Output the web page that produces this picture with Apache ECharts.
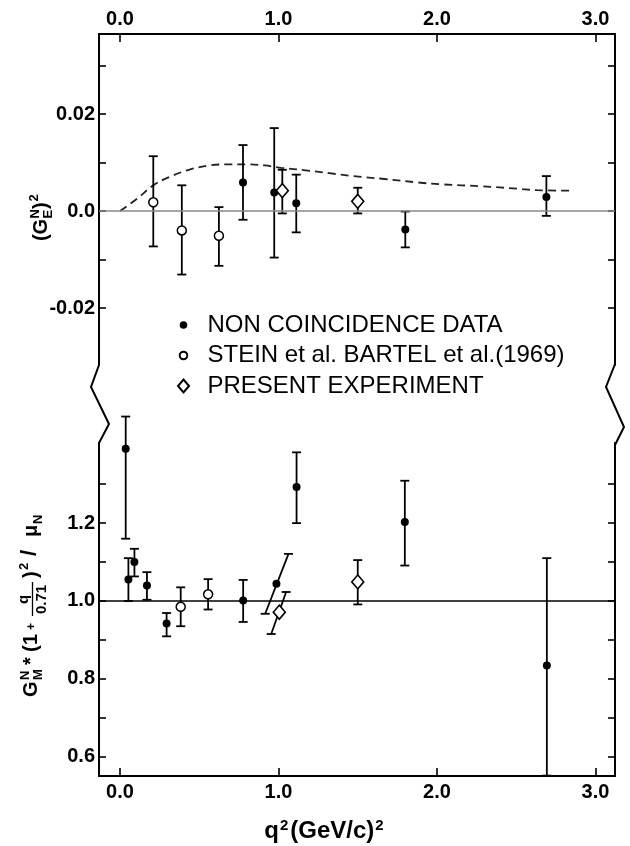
<!DOCTYPE html>
<html><head><meta charset="utf-8">
<script src="https://cdn.jsdelivr.net/npm/echarts@6/dist/echarts.min.js"></script>
<style>html,body{margin:0;padding:0;background:#fff}#c{width:630px;height:846px}</style>
</head><body><div id="c"></div>
<script>
// ---------- data ----------
const xTicks = [0, 1, 2, 3];
const topTicksY = [-0.02, -0.01, 0, 0.01, 0.02, 0.03];
const topLabelsY = [-0.02, 0, 0.02];
const botTicksY = [0.6, 0.7, 0.8, 0.9, 1.0, 1.1, 1.2, 1.3];
const botLabelsY = [0.6, 0.8, 1.0, 1.2];

const NAME_F = 'NON COINCIDENCE DATA';
const NAME_O = 'STEIN et al. BARTEL et al.(1969)';
const NAME_D = 'PRESENT EXPERIMENT';

// upper panel  |G_E^N|^2
const topFilledX  = [0.776, 0.973, 1.112, 1.800, 2.690];
const topFilledY  = [0.0059, 0.0038, 0.0016, -0.0038, 0.0029];
const topFilledLo = [-0.0018, -0.0096, -0.0044, -0.0075, -0.0010];
const topFilledHi = [0.0136, 0.0171, 0.0075, -0.0001, 0.0072];

const topOpenX  = [0.210, 0.390, 0.624];
const topOpenY  = [0.0018, -0.0040, -0.0051];
const topOpenLo = [-0.0073, -0.0131, -0.0113];
const topOpenHi = [0.0113, 0.0053, 0.0008];

const topDiaX  = [1.024, 1.500];
const topDiaY  = [0.0042, 0.0020];
const topDiaLo = [-0.0005, -0.0005];
const topDiaHi = [0.0085, 0.0048];

const curveX = [0.00, 0.11, 0.21, 0.31, 0.435, 0.56, 0.66, 0.81, 0.915, 1.016, 1.17, 1.32, 1.47, 1.67, 1.875, 2.03, 2.28, 2.51, 2.63, 2.84];
const curveY = [0.0, 0.0026, 0.0053, 0.0070, 0.0085, 0.0094, 0.0096, 0.0096, 0.0094, 0.0089, 0.0084, 0.0078, 0.0072, 0.0066, 0.0059, 0.0055, 0.0051, 0.0046, 0.0043, 0.0042];

// lower panel  G_M^N*(1+q/0.71)^2/mu_N
const botFilledX   = [0.036, 0.053, 0.091, 0.170, 0.294, 0.777, 0.987, 1.114, 1.797, 2.693];
const botFilledY   = [1.391, 1.055, 1.100, 1.040, 0.942, 1.001, 1.044, 1.293, 1.203, 0.834];
const botFilledLo  = [1.160, 1.000, 1.063, 1.003, 0.909, 0.946, 0.967, 1.200, 1.091, 0.551];
const botFilledHi  = [1.474, 1.110, 1.134, 1.074, 0.969, 1.054, 1.121, 1.382, 1.309, 1.110];
const botFilledLoX = [0.036, 0.053, 0.091, 0.170, 0.294, 0.777, 0.916, 1.114, 1.797, 2.693];
const botFilledHiX = [0.036, 0.053, 0.091, 0.170, 0.294, 0.777, 1.063, 1.114, 1.797, 2.693];

const botOpenX  = [0.383, 0.556];
const botOpenY  = [0.985, 1.017];
const botOpenLo = [0.935, 0.978];
const botOpenHi = [1.035, 1.056];

const botDiaX   = [1.005, 1.500];
const botDiaY   = [0.971, 1.049];
const botDiaLo  = [0.915, 0.991];
const botDiaHi  = [1.023, 1.105];
const botDiaLoX = [0.954, 1.500];
const botDiaHiX = [1.048, 1.500];

// ---------- helpers ----------
const FONT = 'Liberation Sans';
const pts = (xs, ys) => xs.map((x, i) => [x, ys[i]]);
const bars = (xs, lo, hi, xl, xh) => xs.map((x, i) => [x, lo[i], hi[i], xl ? xl[i] : x, xh ? xh[i] : x]);

function renderBar(params, api) {
  const pLo = api.coord([api.value(3), api.value(1)]);
  const pHi = api.coord([api.value(4), api.value(2)]);
  const c = 4.5;
  const st = { stroke: '#000', lineWidth: 1.8 };
  return { type: 'group', children: [
    { type: 'line', shape: { x1: pLo[0], y1: pLo[1], x2: pHi[0], y2: pHi[1] }, style: st },
    { type: 'line', shape: { x1: pLo[0] - c, y1: pLo[1], x2: pLo[0] + c, y2: pLo[1] }, style: st },
    { type: 'line', shape: { x1: pHi[0] - c, y1: pHi[1], x2: pHi[0] + c, y2: pHi[1] }, style: st }
  ]};
}
function barSeries(data, gi) {
  return { type: 'custom', xAxisIndex: gi, yAxisIndex: gi * 2, data: data, renderItem: renderBar,
           encode: { x: 0, y: 1 }, z: 2, silent: true, clip: false };
}
function scat(name, data, gi, kind) {
  const s = { type: 'scatter', name: name, xAxisIndex: gi, yAxisIndex: gi * 2, data: data, z: 4, silent: true };
  if (kind === 'f') { s.symbol = 'circle'; s.symbolSize = 8; s.itemStyle = { color: '#000', opacity: 1 }; }
  if (kind === 'o') { s.symbol = 'circle'; s.symbolSize = 9; s.itemStyle = { color: '#fff', borderColor: '#000', borderWidth: 1.5, opacity: 1 }; }
  if (kind === 'd') { s.symbol = 'diamond'; s.symbolSize = [12, 14]; s.itemStyle = { color: '#fff', borderColor: '#000', borderWidth: 1.6, opacity: 1 }; }
  return s;
}

const xMin = -0.1325, xMax = 3.123;
const lab = { fontFamily: FONT, fontSize: 20, fontWeight: 'bold', color: '#000' };
function xAxis(gi, pos) {
  return { type: 'value', gridIndex: gi, position: pos, min: xMin, max: xMax,
    axisLine: { show: true, onZero: false, lineStyle: { color: '#000', width: 2 } },
    axisTick: { show: true, inside: true, length: 8, customValues: xTicks, lineStyle: { color: '#000', width: 1.6 } },
    axisLabel: Object.assign({ show: true, customValues: xTicks, margin: pos === 'top' ? 5 : 6,
      formatter: v => v.toFixed(1) }, lab),
    splitLine: { show: false } };
}
function yAxis(gi, pos, min, max, ticks, labels, fmt) {
  return { type: 'value', gridIndex: gi, position: pos, min: min, max: max,
    axisLine: { show: true, onZero: false, lineStyle: { color: '#000', width: 2 } },
    axisTick: { show: true, inside: true, length: 7, customValues: ticks, lineStyle: { color: '#000', width: 1.6 } },
    axisLabel: Object.assign({ show: pos === 'left', customValues: labels, margin: 4, formatter: fmt }, lab),
    splitLine: { show: false } };
}
const topFmt = v => (Math.abs(v) < 1e-9 ? '0.0' : v.toFixed(2));
const botFmt = v => v.toFixed(1);

// rotated multi-part axis titles
const bF = s => 'bold ' + s + 'px ' + FONT;
const T = (text, x, y, size, va) => ({ type: 'text', x: x, y: y,
  style: { text: text, font: bF(size), fill: '#000', verticalAlign: va || 'bottom' } });

const topTitle = { type: 'group', x: 51, y: 241, rotation: Math.PI / 2, silent: true, children: [
  T('(', 0, 0, 20), T('G', 6.5, 0, 20), T('N', 22.5, -9, 13), T('E', 22.5, 4, 13),
  T(')', 32, 0, 20), T('2', 39.5, -10, 13)
]};
const botTitle = { type: 'group', x: 41, y: 697, rotation: Math.PI / 2, silent: true, children: [
  T('G', 0, 0, 20), T('N', 17, -9, 13), T('M', 17, 4, 13), T('*', 32, 0, 20),
  T('(', 45, 0, 20), T('1', 52, 0, 20), T('+', 67, -3, 12),
  T('q', 93, -10, 15), { type: 'line', shape: { x1: 81, y1: -8.5, x2: 115, y2: -8.5 }, style: { stroke: '#000', lineWidth: 1.3 } },
  T('0.71', 83, -7, 15, 'top'),
  T(')', 119, 0, 20), T('2', 127, -10, 13), T('/', 141, 0, 22), T('\u03bc', 160, 0, 20), T('N', 173, 4, 13)
]};

const breakStyle = { stroke: '#000', lineWidth: 2, fill: null };

const option = {
  backgroundColor: '#fff',
  animation: false,
  grid: [
    { left: 99, right: 15, top: 34, height: 331, outerBoundsMode: 'none', containLabel: false },
    { left: 99, right: 15, top: 443, height: 333, outerBoundsMode: 'none', containLabel: false }
  ],
  xAxis: [
    xAxis(0, 'top'),
    Object.assign(xAxis(1, 'bottom'), {
      name: '{m|q}{s|2}{m|(GeV/c)}{s|2}', nameLocation: 'middle', nameGap: 42,
      nameTextStyle: { padding: [0, 64, 0, 0], rich: {
        m: { fontFamily: FONT, fontSize: 24, fontWeight: 'bold', color: '#000' },
        s: { fontFamily: FONT, fontSize: 15, fontWeight: 'bold', color: '#000', verticalAlign: 'top', padding: [0, 2, 12, 1] } } }
    })
  ],
  yAxis: [
    yAxis(0, 'left', -0.03175, 0.0365, topTicksY, topLabelsY, topFmt),
    yAxis(0, 'right', -0.03175, 0.0365, topTicksY, topLabelsY, topFmt),
    yAxis(1, 'left', 0.550, 1.406, botTicksY, botLabelsY, botFmt),
    yAxis(1, 'right', 0.550, 1.406, botTicksY, botLabelsY, botFmt)
  ],
  legend: {
    orient: 'vertical', left: 171, top: 308, itemWidth: 38, itemHeight: 13, itemGap: 6.5,
    selectedMode: false,
    textStyle: { fontFamily: FONT, fontSize: 24, color: '#000', lineHeight: 24 },
    data: [
      { name: NAME_F, icon: 'path://M0 0M12 12M9.5 6A3.5 3.5 0 1 1 2.5 6A3.5 3.5 0 1 1 9.5 6Z' },
      { name: NAME_O, icon: 'path://M0 0M12 12M9.5 6A3.5 3.5 0 1 1 2.5 6A3.5 3.5 0 1 1 9.5 6Z' },
      { name: NAME_D, icon: 'path://M6 0L11.5 6.5L6 13L0.5 6.5Z' }
    ]
  },
  graphic: { elements: [
    { type: 'polyline', silent: true, shape: { points: [[99, 365], [91, 387], [109, 424], [99, 443]] }, style: breakStyle },
    { type: 'polyline', silent: true, shape: { points: [[615, 364], [606, 387], [624, 427], [615, 445]] }, style: breakStyle },
    topTitle, botTitle
  ]},
  series: [
    { type: 'line', xAxisIndex: 0, yAxisIndex: 0, data: pts(curveX, curveY), smooth: 0.4, symbol: 'none', z: 1, silent: true,
      lineStyle: { color: '#222', width: 1.8, type: [8, 5] },
      markLine: { silent: true, symbol: ['none', 'none'], label: { show: false },
        lineStyle: { color: '#888', width: 1.5, type: 'solid' }, data: [{ yAxis: 0 }] } },
    { type: 'line', xAxisIndex: 1, yAxisIndex: 2, data: [], silent: true,
      markLine: { silent: true, symbol: ['none', 'none'], label: { show: false },
        lineStyle: { color: '#000', width: 1.6, type: 'solid' }, data: [{ yAxis: 1.0 }] } },
    barSeries(bars(topFilledX, topFilledLo, topFilledHi), 0),
    barSeries(bars(topOpenX, topOpenLo, topOpenHi), 0),
    barSeries(bars(topDiaX, topDiaLo, topDiaHi), 0),
    barSeries(bars(botFilledX, botFilledLo, botFilledHi, botFilledLoX, botFilledHiX), 1),
    barSeries(bars(botOpenX, botOpenLo, botOpenHi), 1),
    barSeries(bars(botDiaX, botDiaLo, botDiaHi, botDiaLoX, botDiaHiX), 1),
    scat(NAME_F, pts(topFilledX, topFilledY), 0, 'f'),
    scat(NAME_O, pts(topOpenX, topOpenY), 0, 'o'),
    scat(NAME_D, pts(topDiaX, topDiaY), 0, 'd'),
    scat(NAME_F, pts(botFilledX, botFilledY), 1, 'f'),
    scat(NAME_O, pts(botOpenX, botOpenY), 1, 'o'),
    scat(NAME_D, pts(botDiaX, botDiaY), 1, 'd')
  ]
};
const chart = echarts.init(document.getElementById('c'), null, { renderer: 'canvas' });
chart.setOption(option);
</script></body></html>
